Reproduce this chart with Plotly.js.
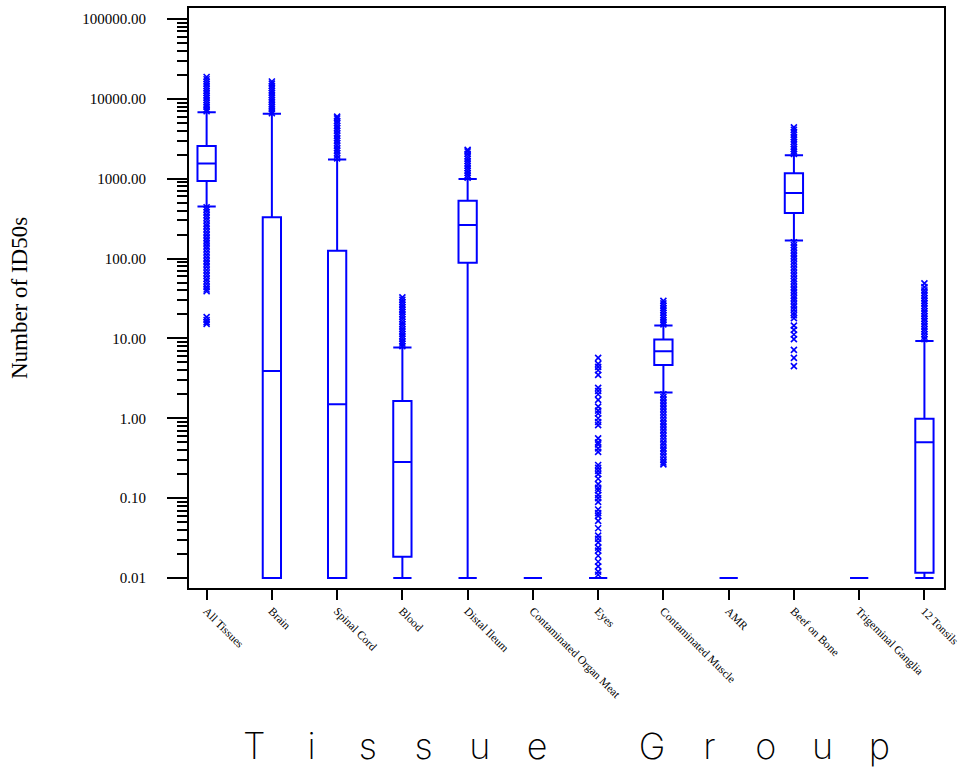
<!DOCTYPE html>
<html>
<head>
<meta charset="utf-8">
<script src="https://cdn.plot.ly/plotly-3.0.1.min.js"></script>
<style>html,body{margin:0;padding:0;background:#fff;}#chart{width:960px;height:772px;}</style>
</head>
<body>
<div id="chart"></div>
<script>
// ---- data ----
var categories = ["All Tissues", "Brain", "Spinal Cord", "Blood", "Distal Ileum",
  "Contaminated Organ Meat", "Eyes", "Contaminated Muscle", "AMR", "Beef on Bone",
  "Trigeminal Ganglia", "12 Tonsils"];

var lowerFence = [450, 0.01, 0.01, 0.01, 0.01, 0.01, 0.01, 2.1, 0.01, 168, 0.01, 0.01];
var q1Values   = [940, 0.01, 0.01, 0.0185, 89, 0.01, 0.01, 4.64, 0.01, 372, 0.01, 0.0116];
var medians    = [1550, 3.9, 1.5, 0.284, 264, 0.01, 0.01, 6.9, 0.01, 665, 0.01, 0.5];
var q3Values   = [2570, 330, 125, 1.65, 530, 0.01, 0.01, 9.7, 0.01, 1175, 0.01, 0.99];
var upperFence = [6800, 6500, 1740, 7.7, 990, 0.01, 0.01, 14.5, 0.01, 1970, 0.01, 9.3];

var outAllTissues = [7000, 7400, 7900, 8400, 9000, 9600, 10300, 11000, 11800, 12600, 13500,
  14400, 15400, 16500, 17600, 18800,
  440, 410, 380, 350, 325, 300, 275, 255, 235, 215, 198, 182, 168, 155, 142, 131, 120, 110,
  101, 93, 86, 79, 72, 66, 61, 56, 52, 48, 44, 41, 39, 18.5, 17, 16, 15.2];
var outBrain = [6600, 7000, 7500, 8000, 8500, 9100, 9700, 10400, 11100, 11900, 12700, 13600,
  14500, 15500, 16500];
var outSpinalCord = [1800, 1950, 2100, 2250, 2400, 2600, 2800, 3000, 3200, 3450, 3700, 4000,
  4300, 4600, 4950, 5300, 5700, 6000];
var outBlood = [8, 8.6, 9.2, 9.9, 10.6, 11.4, 12.2, 13.1, 14.1, 15.1, 16.2, 17.4, 18.7, 20,
  21.5, 23, 24.7, 26.5, 28.5, 30.5, 32.7];
var outDistalIleum = [1030, 1100, 1180, 1260, 1350, 1450, 1550, 1660, 1780, 1900, 2050, 2200, 2300];
var outEyes = [5.7, 4.8, 4.4, 4.0, 3.5, 2.4, 2.2, 2.0, 1.7, 1.4, 1.25, 1.15, 1.0, 0.9, 0.82,
  0.56, 0.5, 0.47, 0.42, 0.38, 0.26, 0.24, 0.22, 0.2, 0.175, 0.15, 0.135, 0.125, 0.11, 0.1,
  0.09, 0.072, 0.065, 0.06, 0.052, 0.042, 0.034, 0.031, 0.028, 0.024, 0.022, 0.019, 0.016,
  0.014, 0.012, 0.011];
var outContaminatedMuscle = [15, 16, 17, 18.2, 19.5, 21, 22.5, 24, 25.7, 27.5, 29.5,
  2.0, 1.85, 1.7, 1.56, 1.43, 1.31, 1.2, 1.1, 1.0, 0.92, 0.85, 0.78, 0.71, 0.65, 0.6, 0.55,
  0.5, 0.46, 0.42, 0.39, 0.36, 0.33, 0.3, 0.28, 0.265];
var outBeefOnBone = [2050, 2200, 2350, 2500, 2700, 2900, 3100, 3300, 3550, 3800, 4100, 4400,
  160, 148, 137, 127, 117, 108, 100, 92, 85, 78, 72, 66, 61, 56, 52, 48, 44, 40.5, 37.5, 34.5,
  32, 29.5, 27, 25, 23, 21, 19.5, 18, 14.5, 12.8, 11.2, 9.8, 7.2, 5.7, 4.5];
var out12Tonsils = [9.8, 10.5, 11.3, 12.2, 13.1, 14.1, 15.2, 16.4, 17.6, 19, 20.5, 22, 23.7,
  25.5, 27.5, 29.5, 32, 34.5, 37, 40, 44, 49];

var yTickVals = [0.01, 0.1, 1, 10, 100, 1000, 10000, 100000];
var yTickText = ["0.01", "0.10", "1.00", "10.00", "100.00", "1000.00", "10000.00", "100000.00"];

// ---- build traces ----
var outlierSets = [
  ["All Tissues", outAllTissues], ["Brain", outBrain], ["Spinal Cord", outSpinalCord],
  ["Blood", outBlood], ["Distal Ileum", outDistalIleum], ["Eyes", outEyes],
  ["Contaminated Muscle", outContaminatedMuscle], ["Beef on Bone", outBeefOnBone],
  ["12 Tonsils", out12Tonsils]
];
var ox = [], oy = [];
outlierSets.forEach(function (s) {
  s[1].forEach(function (v) { ox.push(s[0]); oy.push(v); });
});

var minorVals = [];
for (var e = -2; e <= 5; e++) {
  for (var m = 2; m <= 9; m++) minorVals.push(m * Math.pow(10, e));
}

var BLUE = "#0000ff";
var traces = [
  {
    type: "box", x: categories, q1: q1Values, median: medians, q3: q3Values,
    lowerfence: lowerFence, upperfence: upperFence,
    boxpoints: false, width: 0.28, whiskerwidth: 1,
    line: { color: BLUE, width: 2 }, fillcolor: "rgba(0,0,0,0)",
    hoverinfo: "skip", showlegend: false
  },
  {
    type: "scatter", mode: "markers", x: ox, y: oy,
    marker: { symbol: "x-thin-open", size: 6, color: BLUE, line: { color: BLUE, width: 1.6 } },
    hoverinfo: "skip", showlegend: false
  }
];

// x title: wide-spaced thin lettering (per-letter spacing to give an even pitch)
var titleLetters = [["T", 42], ["i", 43], ["s", 37.6], ["s", 36.7], ["u", 36.2], ["e", 40.6],
  [" ", 40.6], ["G", 37.8], ["r", 39.8], ["o", 35.6], ["u", 35.6], ["p", 0]];
var xTitle = titleLetters.map(function (p) {
  return '<span style="letter-spacing:' + p[1] + 'px">' + p[0] + '</span>';
}).join("");

var layout = {
  width: 960, height: 772,
  margin: { l: 189, r: 16, t: 8, b: 184 },
  paper_bgcolor: "#fff", plot_bgcolor: "#fff",
  showlegend: false,
  xaxis: {
    type: "category", categoryorder: "array", categoryarray: categories,
    range: [-0.27, 11.3],
    showline: true, linecolor: "black", linewidth: 2, mirror: true,
    ticks: "outside", ticklen: 10, tickwidth: 2, tickcolor: "black",
    tickangle: 45, tickfont: { family: "Liberation Serif", size: 11.5, color: "black" },
    showgrid: false, zeroline: false,
    title: { text: xTitle, font: { family: "Inter", size: 36, weight: 200, color: "black" }, standoff: 33 }
  },
  yaxis: {
    type: "log", range: [-2.125, 5.138],
    tickmode: "array", tickvals: yTickVals, ticktext: yTickText,
    showline: true, linecolor: "black", linewidth: 2, mirror: true,
    ticks: "outside", ticklen: 20, tickwidth: 2, tickcolor: "black",
    ticklabelstandoff: 18,
    tickfont: { family: "Liberation Serif", size: 15, color: "black" },
    minor: { tickmode: "array", tickvals: minorVals, ticks: "outside", ticklen: 10, tickwidth: 2, tickcolor: "black", showgrid: false },
    showgrid: false, zeroline: false,
    title: { text: "Number of ID50s", font: { family: "Liberation Serif", size: 23, color: "black" }, standoff: 48 }
  }
};

Plotly.newPlot("chart", traces, layout, { staticPlot: true, displayModeBar: false });
</script>
</body>
</html>
